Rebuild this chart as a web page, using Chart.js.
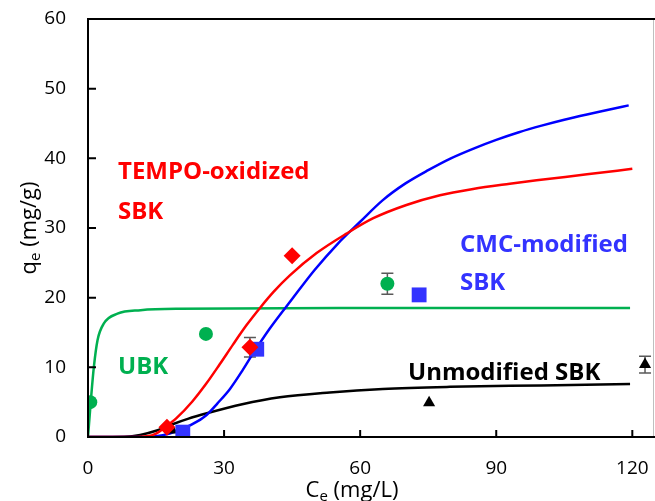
<!DOCTYPE html>
<html>
<head>
<meta charset="utf-8">
<script src="https://cdn.jsdelivr.net/npm/chart.js@4.4.1/dist/chart.umd.min.js"></script>
<style>
  html, body { margin: 0; padding: 0; background: #fff; overflow: hidden; }
  #wrap { width: 655px; height: 501px; position: relative; }
  canvas { display: block; }
</style>
</head>
<body>
<div id="wrap"><canvas id="isothermChart"></canvas></div>
<script>
const xTicks = [0, 30, 60, 90, 120];
const yTicks = [0, 10, 20, 30, 40, 50, 60];

// fitted isotherms, Ce (mg/L) against qe (mg/g)
const ubkFitCe = [0, 0.7, 1.3, 2.1, 3.5, 6.5, 11.6, 20, 60, 119.5];
const ubkFitQe = [0, 5.8, 10.1, 13.9, 16.3, 17.7, 18.2, 18.4, 18.5, 18.5];

const tempoFitCe = [0, 10, 13, 15, 17, 19.5, 23, 26, 29, 32, 35, 38, 41, 44.5, 50.4, 57, 62.9, 70.2, 77.6, 84.9, 93, 98.9, 110, 120];
const tempoFitQe = [0, 0, 0.1, 0.5, 1.4, 2.7, 5.1, 7.6, 10.4, 13.3, 16.1, 18.6, 20.9, 23.2, 26.4, 29.2, 31.4, 33.3, 34.7, 35.6, 36.35, 36.85, 37.7, 38.5];

const cmcFitCe = [0, 12, 15, 18, 21, 24, 26.2, 28.5, 31.3, 34, 36.4, 40, 45, 50, 55, 60, 65, 70, 75, 80, 85, 90, 95, 100, 105, 110, 115, 119.2];
const cmcFitQe = [0, 0, 0.1, 0.5, 1.2, 2.2, 3.2, 4.8, 6.9, 9.5, 12.0, 15.5, 19.8, 24.0, 27.7, 30.9, 34.0, 36.4, 38.3, 40.0, 41.4, 42.65, 43.75, 44.7, 45.55, 46.3, 47.0, 47.6];

const sbkFitCe = [0, 8, 11.5, 15, 18.5, 22, 26.2, 34, 42.3, 53.3, 65, 79.8, 100, 119.5];
const sbkFitQe = [0, 0.05, 0.3, 0.9, 1.8, 2.6, 3.4, 4.7, 5.7, 6.4, 6.9, 7.2, 7.4, 7.6];

// measured points with standard deviations
const ubkCe = [0.5, 26, 66];
const ubkQe = [5, 14.8, 22];
const ubkSd = [0, 0, 1.5];

const tempoCe = [17.4, 35.7, 45];
const tempoQe = [1.4, 12.9, 26];
const tempoSd = [0, 1.4, 0];

const cmcCe = [20.9, 37.2, 73];
const cmcQe = [0.7, 12.6, 20.4];
const cmcSd = [0, 0, 0];

const sbkCe = [18.5, 75.2, 122.8];
const sbkQe = [1.0, 4.9, 10.4];
const sbkSd = [0, 0, 1.2];

const FONT = '"Open Sans", Carlito, Calibri, sans-serif';
const GREEN = '#00b050', RED = '#ff0000', BLUE = '#0000ff', BLUE_PT = '#3333ff';

function pts(xs, ys) {
  return xs.map((x, i) => ({ x: x, y: ys[i] }));
}

function fitLine(xs, ys, color, order) {
  return {
    data: pts(xs, ys), showLine: true, borderColor: color, borderWidth: 2.5,
    pointRadius: 0, cubicInterpolationMode: 'monotone', order: order
  };
}

function marks(xs, ys, color, style, r, order) {
  return {
    data: pts(xs, ys), showLine: false, pointStyle: style, pointRadius: r,
    backgroundColor: color, borderColor: color, borderWidth: 0, order: order
  };
}

const errorSets = [
  [ubkCe, ubkQe, ubkSd], [tempoCe, tempoQe, tempoSd],
  [cmcCe, cmcQe, cmcSd], [sbkCe, sbkQe, sbkSd]
];

const labels = [
  { text: 'TEMPO-oxidized', x: 118, y: 172, color: RED },
  { text: 'SBK', x: 118, y: 212, color: RED },
  { text: 'UBK', x: 118, y: 367, color: GREEN },
  { text: 'CMC-modified', x: 460, y: 245, color: BLUE_PT },
  { text: 'SBK', x: 460, y: 283, color: BLUE_PT },
  { text: 'Unmodified SBK', x: 408, y: 373, color: '#000' }
];

// axis title with a subscript, drawn centred at (cx, cy)
function subTitle(ctx, main, sub, rest, cx, cy, rot) {
  const big = '22px ' + FONT, small = '15px ' + FONT;
  ctx.font = big; const w1 = ctx.measureText(main).width;
  ctx.font = small; const w2 = ctx.measureText(sub).width;
  ctx.font = big; const w3 = ctx.measureText(rest).width;
  const total = w1 + w2 + w3;
  ctx.save();
  ctx.translate(cx, cy);
  ctx.rotate(rot);
  ctx.fillStyle = '#000';
  ctx.textBaseline = 'middle';
  ctx.textAlign = 'left';
  let x = -total / 2;
  ctx.font = big; ctx.fillText(main, x, 0); x += w1;
  ctx.font = small; ctx.fillText(sub, x, 6); x += w2;
  ctx.font = big; ctx.fillText(rest, x, 0);
  ctx.restore();
}

function noPad(s) {
  s.paddingTop = 0; s.paddingBottom = 0; s.paddingLeft = 0; s.paddingRight = 0;
}

const frame = {
  id: 'frame',
  beforeDatasetsDraw(chart) {
    const ctx = chart.ctx, xs = chart.scales.x, ys = chart.scales.y;
    ctx.save();
    ctx.strokeStyle = '#595959';
    ctx.lineWidth = 1.5;
    errorSets.forEach(([ce, qe, sd]) => {
      ce.forEach((c, i) => {
        if (!sd[i]) return;
        const px = xs.getPixelForValue(c);
        const top = ys.getPixelForValue(qe[i] + sd[i]);
        const bot = ys.getPixelForValue(qe[i] - sd[i]);
        ctx.beginPath();
        ctx.moveTo(px, top); ctx.lineTo(px, bot);
        ctx.moveTo(px - 6, top); ctx.lineTo(px + 6, top);
        ctx.moveTo(px - 6, bot); ctx.lineTo(px + 6, bot);
        ctx.stroke();
      });
    });
    ctx.restore();
  },
  afterDraw(chart) {
    const ctx = chart.ctx, a = chart.chartArea;
    const xs = chart.scales.x, ys = chart.scales.y;
    ctx.save();
    ctx.strokeStyle = '#bfbfbf';
    ctx.lineWidth = 1;
    ctx.beginPath();
    ctx.moveTo(a.right - 1.5, a.top); ctx.lineTo(a.right - 1.5, a.bottom);
    ctx.stroke();

    ctx.strokeStyle = '#000';
    ctx.lineWidth = 2;
    ctx.beginPath();
    ctx.moveTo(a.right, a.top); ctx.lineTo(a.left, a.top);
    ctx.lineTo(a.left, a.bottom); ctx.lineTo(a.right, a.bottom);
    xTicks.forEach(v => {
      const p = xs.getPixelForValue(v);
      if (v === 0) return;
      ctx.moveTo(p, a.bottom); ctx.lineTo(p, a.bottom - 7);
    });
    yTicks.forEach(v => {
      const p = ys.getPixelForValue(v);
      if (v === 0 || v === 60) return;
      ctx.moveTo(a.left, p); ctx.lineTo(a.left + 8, p);
    });
    ctx.stroke();

    subTitle(ctx, 'q', 'e', ' (mg/g)', 30, 228, -Math.PI / 2);
    subTitle(ctx, 'C', 'e', ' (mg/L)', 352, 491, 0);

    ctx.font = 'bold 24px ' + FONT;
    ctx.textBaseline = 'middle';
    ctx.textAlign = 'left';
    labels.forEach(l => {
      ctx.fillStyle = l.color;
      ctx.fillText(l.text, l.x, l.y);
    });
    ctx.restore();
  }
};

new Chart(document.getElementById('isothermChart'), {
  type: 'scatter',
  data: {
    datasets: [
      marks(tempoCe, tempoQe, RED, 'rectRot', 8.5, 0),
      marks(cmcCe, cmcQe, BLUE_PT, 'rect', 10.5, 1),
      marks(sbkCe, sbkQe, '#000', 'triangle', 7, 2),
      marks(ubkCe, ubkQe, GREEN, 'circle', 7, 3),
      fitLine(tempoFitCe, tempoFitQe, RED, 10),
      fitLine(cmcFitCe, cmcFitQe, BLUE, 11),
      fitLine(sbkFitCe, sbkFitQe, '#000', 12),
      fitLine(ubkFitCe, ubkFitQe, GREEN, 13)
    ]
  },
  options: {
    responsive: true,
    maintainAspectRatio: false,
    animation: false,
    layout: { autoPadding: false, padding: { top: 19, right: 0, left: 0, bottom: 0 } },
    plugins: { legend: { display: false }, tooltip: { enabled: false } },
    scales: {
      x: {
        type: 'linear', min: 0, max: 125,
        afterBuildTicks: s => { s.ticks = xTicks.map(v => ({ value: v })); },
        afterFit: s => { s.height = 64; noPad(s); },
        grid: { display: false, drawTicks: false },
        border: { display: false },
        ticks: { padding: 20, color: '#000', font: { family: FONT, size: 19 } }
      },
      y: {
        type: 'linear', min: 0, max: 60,
        afterBuildTicks: s => { s.ticks = yTicks.map(v => ({ value: v })); },
        afterFit: s => { s.width = 88; noPad(s); },
        grid: { display: false, drawTicks: false },
        border: { display: false },
        ticks: { padding: 22, color: '#000', font: { family: FONT, size: 19 } }
      }
    }
  },
  plugins: [frame]
});
</script>
</body>
</html>
